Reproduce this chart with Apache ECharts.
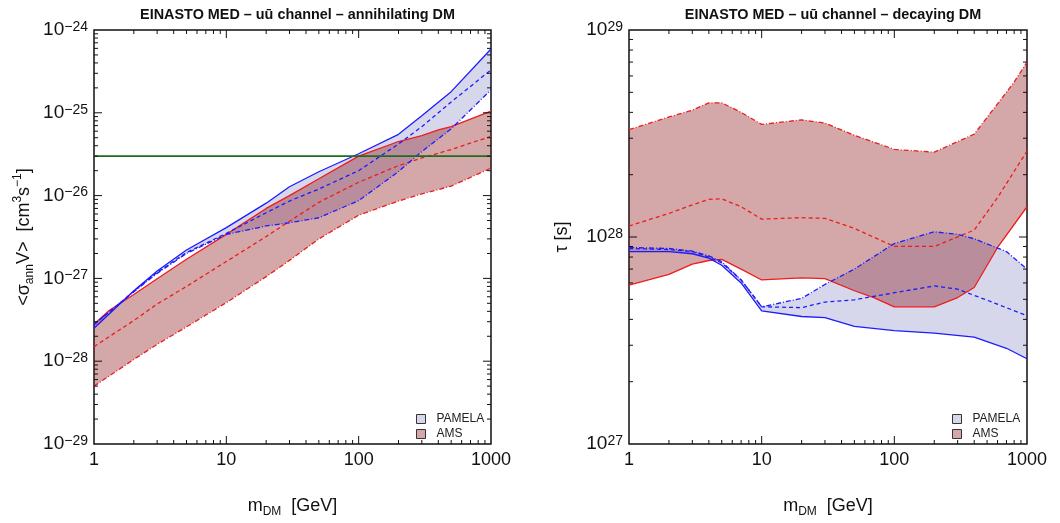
<!DOCTYPE html>
<html>
<head>
<meta charset="utf-8">
<script src="https://cdn.jsdelivr.net/npm/echarts@6/dist/echarts.min.js"></script>
<style>
  html, body { margin: 0; padding: 0; background: #fff; }
  #chart { width: 1060px; height: 523px; }
</style>
</head>
<body>
<div id="chart"></div>
<script>
// ---- annihilating DM: <sigma v> bounds [cm^3 s^-1] vs. DM mass [GeV] ----
const pamelaAnnMax = [[1,2.5e-28],[2,7.1e-28],[3,1.23e-27],[5,2.2e-27],[10,4.1e-27],[20,8.1e-27],[30,1.28e-26],[50,1.94e-26],[100,3.2e-26],[200,5.5e-26],[300,9.2e-26],[500,1.8e-25],[1000,5.9e-25]];
const pamelaAnnMid = [[1,2.75e-28],[2,7.0e-28],[3,1.18e-27],[5,2.05e-27],[10,3.5e-27],[20,6.2e-27],[30,8.6e-27],[50,1.2e-26],[100,2.0e-26],[200,4.2e-26],[300,6.8e-26],[500,1.35e-25],[1000,3.3e-25]];
const pamelaAnnMin = [[1,2.8e-28],[2,6.9e-28],[3,1.15e-27],[5,2.0e-27],[10,3.4e-27],[20,4.3e-27],[30,4.7e-27],[50,5.4e-27],[100,8.7e-27],[200,1.95e-26],[300,3.4e-26],[500,6.4e-26],[1000,1.9e-25]];
const amsAnnMax = [[1,2.8e-28],[1.3,4.1e-28],[2,6.4e-28],[3,9.9e-28],[5,1.7e-27],[10,3.4e-27],[20,7.0e-27],[30,1.0e-26],[50,1.6e-26],[100,3.0e-26],[200,4.5e-26],[300,5.3e-26],[400,6.2e-26],[500,6.8e-26],[1000,1.05e-25]];
const amsAnnMid = [[1,1.5e-28],[2,3.1e-28],[3,4.9e-28],[5,8.0e-28],[10,1.6e-27],[20,3.2e-27],[30,4.9e-27],[50,8.3e-27],[100,1.45e-26],[200,2.3e-26],[300,2.85e-26],[500,3.6e-26],[1000,5.2e-26]];
const amsAnnMin = [[1,5e-29],[2,1.05e-28],[3,1.6e-28],[5,2.6e-28],[10,5.1e-28],[20,1.05e-27],[30,1.65e-27],[50,3.0e-27],[100,5.8e-27],[200,8.6e-27],[300,1.05e-26],[500,1.3e-26],[1000,2.15e-26]];
const thermalXsec = [[1,3e-26],[1000,3e-26]];

// ---- decaying DM: lifetime bounds [s] vs. DM mass [GeV] ----
const pamelaDecMin = [[1,8.5e27],[2,8.5e27],[3,8.3e27],[4,7.9e27],[5,7.3e27],[7,6.0e27],[10,4.4e27],[20,4.13e27],[30,4.08e27],[50,3.7e27],[100,3.53e27],[200,3.43e27],[400,3.28e27],[700,2.9e27],[1000,2.58e27]];
const pamelaDecMid = [[1,8.8e27],[2,8.7e27],[3,8.5e27],[4,8.0e27],[5,7.5e27],[7,6.2e27],[10,4.6e27],[20,4.56e27],[30,4.85e27],[50,4.97e27],[100,5.38e27],[200,5.8e27],[300,5.6e27],[500,4.95e27],[1000,4.17e27]];
const pamelaDecMax = [[1,8.9e27],[2,8.8e27],[3,8.55e27],[4,8.1e27],[5,7.6e27],[7,6.2e27],[10,4.6e27],[20,5.05e27],[30,5.9e27],[50,7.0e27],[100,9.3e27],[200,1.06e28],[300,1.03e28],[400,9.8e27],[700,8.5e27],[1000,7.0e27]];
const amsDecMax = [[1,3.3e28],[2,3.8e28],[3,4.1e28],[4,4.45e28],[5,4.45e28],[7,4.0e28],[10,3.5e28],[20,3.68e28],[30,3.55e28],[50,3.1e28],[100,2.65e28],[200,2.57e28],[400,3.14e28],[600,4.4e28],[800,5.6e28],[1000,7.0e28]];
const amsDecMid = [[1,1.13e28],[2,1.3e28],[3,1.43e28],[4,1.52e28],[5,1.53e28],[7,1.4e28],[10,1.22e28],[20,1.24e28],[30,1.23e28],[50,1.1e28],[100,9.0e27],[200,9.0e27],[400,1.08e28],[600,1.55e28],[1000,2.6e28]];
const amsDecMin = [[1,5.85e27],[2,6.6e27],[3,7.4e27],[4,7.7e27],[5,7.8e27],[7,7.0e27],[10,6.2e27],[20,6.35e27],[30,6.3e27],[50,5.5e27],[70,5.1e27],[100,4.6e27],[200,4.6e27],[300,5.1e27],[400,5.7e27],[600,8.9e27],[1000,1.4e28]];

// ---- axis ranges and tick values ----
const massRange = [1, 1000];
const annRange = [1e-29, 1e-24];
const decRange = [1e27, 1e29];
const massMajorTicks = [10, 100];
const annMajorTicks = [1e-28, 1e-27, 1e-26, 1e-25];
const decMajorTicks = [1e28];

function minorTicks(lo, hi) {
  const out = [];
  for (let d = Math.round(Math.log10(lo)); d < Math.round(Math.log10(hi)); d++) {
    for (let k = 2; k <= 9; k++) out.push(k * Math.pow(10, d));
  }
  return out;
}
const massMinorTicks = minorTicks(massRange[0], massRange[1]);
const annMinorTicks = minorTicks(annRange[0], annRange[1]);
const decMinorTicks = minorTicks(decRange[0], decRange[1]);

// The cross-section axis works in units of 1e-29 cm^3/s so the log scale keeps full precision;
// its labels shift the exponent back.
const ANN_EXP = 29;
const ANN_UNIT = Math.pow(10, ANN_EXP);
const annUnits = arr => arr.map(p => [p[0], p[1] * ANN_UNIT]);
const annUnitVals = arr => arr.map(v => v * ANN_UNIT);

const FONT = '"Liberation Sans", Arial, Helvetica, sans-serif';
const BLUE = '#1c1cff';
const RED = '#ee1c1c';
const BLUE_FILL = 'rgba(40,40,150,0.186)';
const RED_FILL = 'rgba(135,10,15,0.36)';
const BLUE_KEY = '#d7d7ec';
const RED_KEY = '#d4a8aa';
const DASH = [4, 3];
const DASHDOT = [5, 2, 1, 2];

const chart = echarts.init(document.getElementById('chart'), null, { renderer: 'canvas' });

// Band between an upper and a lower curve, drawn as one polygon in data coordinates
function bandSeries(name, xi, upper, lower, fill, key) {
  return {
    type: 'custom', name: name, xAxisIndex: xi, yAxisIndex: xi,
    coordinateSystem: 'cartesian2d', clip: true, silent: true, z: 1,
    itemStyle: { color: key, borderColor: '#333', borderWidth: 1 },
    data: [[upper[0][0], upper[0][1]]],
    renderItem: function (params, api) {
      const pts = upper.map(p => api.coord(p)).concat(lower.slice().reverse().map(p => api.coord(p)));
      return { type: 'polygon', shape: { points: pts }, style: { fill: fill, stroke: null } };
    }
  };
}

function lineSeries(name, xi, data, color, type, width) {
  return {
    type: 'line', name: name, xAxisIndex: xi, yAxisIndex: xi, data: data,
    showSymbol: false, symbol: 'none', silent: true, z: 3, clip: true,
    lineStyle: { color: color, width: width || 1.3, type: type }
  };
}

// Inward major/minor tick marks on all four sides of a panel
function tickSeries(xi, yMin, xMajor, xMinor, yMajor, yMinor) {
  return {
    type: 'custom', name: 'ticks' + xi, xAxisIndex: xi, yAxisIndex: xi,
    coordinateSystem: 'cartesian2d', silent: true, z: 5, clip: false,
    data: [[1, yMin]],
    renderItem: function (params, api) {
      const cs = params.coordSys;
      const kids = [];
      const seg = (x1, y1, x2, y2) => kids.push({ type: 'line', shape: { x1, y1, x2, y2 }, style: { stroke: '#111', lineWidth: 1 } });
      const bottom = cs.y + cs.height, top = cs.y, left = cs.x, right = cs.x + cs.width;
      xMajor.forEach(v => { const x = api.coord([v, yMin])[0]; seg(x, bottom, x, bottom - 8); seg(x, top, x, top + 8); });
      xMinor.forEach(v => { const x = api.coord([v, yMin])[0]; seg(x, bottom, x, bottom - 4); seg(x, top, x, top + 4); });
      yMajor.forEach(v => { const y = api.coord([1, v])[1]; seg(left, y, left + 8, y); seg(right, y, right - 8, y); });
      yMinor.forEach(v => { const y = api.coord([1, v])[1]; seg(left, y, left + 4, y); seg(right, y, right - 4, y); });
      return { type: 'group', children: kids };
    }
  };
}

const powRich = {
  b: { fontSize: 19, lineHeight: 20, verticalAlign: 'middle', fontFamily: FONT, color: '#111' },
  s: { fontSize: 14, lineHeight: 9, verticalAlign: 'top', fontFamily: FONT, color: '#111' }
};
function powLabelShift(shift) {
  return function (v) {
    const e = Math.round(Math.log10(v)) - shift;
    return '{b|10}{s|' + (e < 0 ? '\u2212' + (-e) : e) + '}';
  };
}
const nameRich = {
  t: { fontSize: 18, lineHeight: 24, verticalAlign: 'middle', fontFamily: FONT, color: '#111' },
  sub: { fontSize: 12, lineHeight: 18, verticalAlign: 'bottom', fontFamily: FONT, color: '#111' },
  sup: { fontSize: 12, lineHeight: 12, verticalAlign: 'top', fontFamily: FONT, color: '#111' }
};

function xAxisDef(gi) {
  return {
    type: 'log', logBase: 10, gridIndex: gi, min: massRange[0], max: massRange[1], splitNumber: 3,
    axisLine: { show: false }, axisTick: { show: false }, splitLine: { show: false },
    axisLabel: { margin: 7, fontSize: 18, fontFamily: FONT, color: '#111', formatter: v => String(Math.round(v)), showMinLabel: true, showMaxLabel: true },
    name: '{t|m}{sub|DM}{t|  [GeV]}', nameLocation: 'middle', nameGap: 50,
    nameTextStyle: { rich: nameRich }
  };
}

const gridStyle = { show: true, borderColor: '#111', borderWidth: 1.5, backgroundColor: 'transparent' };

const legendCommon = {
  orient: 'vertical', icon: 'rect', itemWidth: 9, itemHeight: 9, itemGap: 3, selectedMode: false,
  textStyle: { fontSize: 12, fontFamily: FONT, color: '#222', padding: [0, 0, 0, 6] },
  data: [
    { name: 'PAMELA', itemStyle: { color: BLUE_KEY, borderColor: '#333', borderWidth: 1 } },
    { name: 'AMS', itemStyle: { color: RED_KEY, borderColor: '#333', borderWidth: 1 } }
  ]
};

const titleStyle = { fontSize: 14.4, fontWeight: 'bold', fontFamily: FONT, color: '#111' };

const option = {
  animation: false,
  backgroundColor: '#fff',
  title: [
    { text: 'EINASTO MED \u2013 u\u016B channel \u2013 annihilating DM', left: 292.5, top: 3, textAlign: 'center', textStyle: titleStyle },
    { text: 'EINASTO MED \u2013 u\u016B channel \u2013 decaying DM', left: 828, top: 3, textAlign: 'center', textStyle: titleStyle }
  ],
  legend: [
    Object.assign({ left: 411, top: 408 }, legendCommon),
    Object.assign({ left: 947, top: 408 }, legendCommon)
  ],
  grid: [
    Object.assign({ left: 94, top: 30, width: 397, height: 418 }, gridStyle),
    Object.assign({ left: 629, top: 30, width: 398, height: 418 }, gridStyle)
  ],
  xAxis: [xAxisDef(0), xAxisDef(1)],
  yAxis: [
    {
      type: 'log', logBase: 10, gridIndex: 0, min: annRange[0] * ANN_UNIT, max: annRange[1] * ANN_UNIT, splitNumber: 5,
      axisLine: { show: false }, axisTick: { show: false }, splitLine: { show: false },
      axisLabel: { margin: 6, formatter: powLabelShift(ANN_EXP), rich: powRich, showMinLabel: true, showMaxLabel: true },
      name: '{t|<\u03C3}{sub|ann}{t|V>  [cm}{sup|3}{t|s}{sup|\u22121}{t|]}', nameLocation: 'middle', nameRotate: 90, nameGap: 58,
      nameTextStyle: { rich: nameRich }
    },
    {
      type: 'log', logBase: 10, gridIndex: 1, min: decRange[0], max: decRange[1], splitNumber: 2,
      axisLine: { show: false }, axisTick: { show: false }, splitLine: { show: false },
      axisLabel: { margin: 6, formatter: powLabelShift(0), rich: powRich, showMinLabel: true, showMaxLabel: true },
      name: '{t|\u03C4 [s]}', nameLocation: 'middle', nameRotate: 90, nameGap: 55,
      nameTextStyle: { rich: nameRich }
    }
  ],
  series: [
    // annihilation panel
    bandSeries('PAMELA', 0, annUnits(pamelaAnnMax), annUnits(pamelaAnnMin), BLUE_FILL, BLUE_KEY),
    bandSeries('AMS', 0, annUnits(amsAnnMax), annUnits(amsAnnMin), RED_FILL, RED_KEY),
    lineSeries('AMS upper', 0, annUnits(amsAnnMax), RED, 'solid'),
    lineSeries('AMS median', 0, annUnits(amsAnnMid), RED, DASH),
    lineSeries('AMS lower', 0, annUnits(amsAnnMin), RED, DASHDOT),
    lineSeries('PAMELA upper', 0, annUnits(pamelaAnnMax), BLUE, 'solid'),
    lineSeries('PAMELA median', 0, annUnits(pamelaAnnMid), BLUE, DASH),
    lineSeries('PAMELA lower', 0, annUnits(pamelaAnnMin), BLUE, DASHDOT),
    lineSeries('thermal', 0, annUnits(thermalXsec), '#1f6b1f', 'solid', 1.8),
    tickSeries(0, annRange[0] * ANN_UNIT, massMajorTicks, massMinorTicks, annUnitVals(annMajorTicks), annUnitVals(annMinorTicks)),
    // decay panel
    bandSeries('PAMELA', 1, pamelaDecMax, pamelaDecMin, BLUE_FILL, BLUE_KEY),
    bandSeries('AMS', 1, amsDecMax, amsDecMin, RED_FILL, RED_KEY),
    lineSeries('AMS upper', 1, amsDecMax, RED, DASHDOT),
    lineSeries('AMS median', 1, amsDecMid, RED, DASH),
    lineSeries('AMS lower', 1, amsDecMin, RED, 'solid'),
    lineSeries('PAMELA upper', 1, pamelaDecMax, BLUE, DASHDOT),
    lineSeries('PAMELA median', 1, pamelaDecMid, BLUE, DASH),
    lineSeries('PAMELA lower', 1, pamelaDecMin, BLUE, 'solid'),
    tickSeries(1, decRange[0], massMajorTicks, massMinorTicks, decMajorTicks, decMinorTicks)
  ]
};

chart.setOption(option);
</script>
</body>
</html>
